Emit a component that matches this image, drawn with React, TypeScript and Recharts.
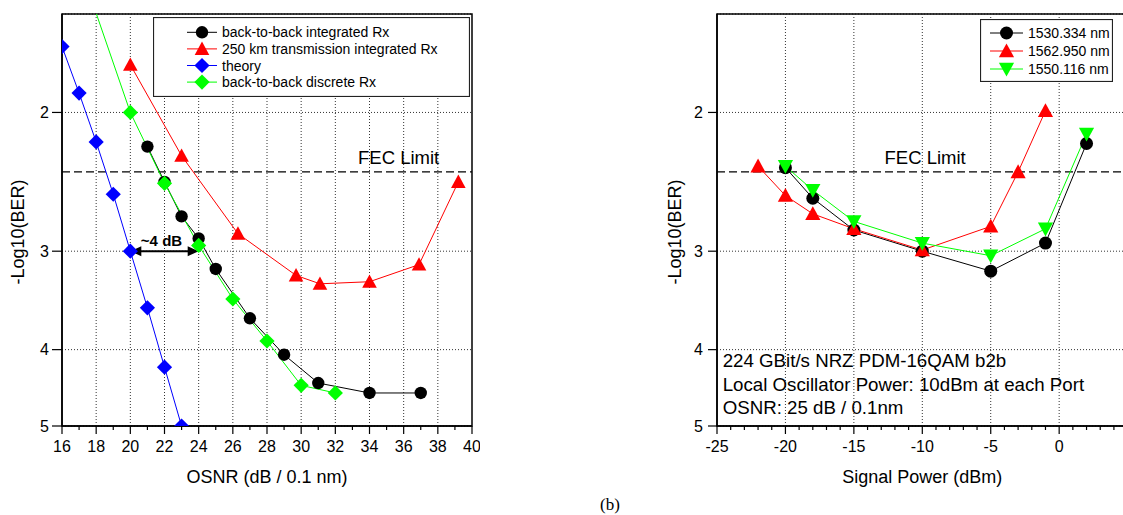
import React from 'react';
import {
  LineChart,
  Line,
  XAxis,
  YAxis,
  CartesianGrid,
  ReferenceLine,
  ReferenceArea,
  Legend,
} from 'recharts';

// ---- left panel: BER vs OSNR ----
const osnrB2bInt = [21, 22, 23, 24, 25, 27, 29, 31, 34, 37];
const berB2bInt = [2.21, 2.45, 2.71, 2.89, 3.16, 3.65, 4.06, 4.41, 4.54, 4.54];

const osnr250km = [20, 23, 26.3, 29.7, 31.1, 34, 36.9, 39.2];
const ber250km = [1.74, 2.27, 2.85, 3.22, 3.3, 3.28, 3.12, 2.45];

const osnrTheory = [16, 17, 18, 19, 20, 21, 22, 23];
const berTheory = [1.65, 1.89, 2.18, 2.54, 3.0, 3.54, 4.21, 5.0];

const osnrB2bDisc = [16, 20, 22, 24, 26, 28, 30, 32];
const berB2bDisc = [1.12, 2.0, 2.46, 2.95, 3.45, 3.9, 4.44, 4.54];

// ---- right panel: BER vs signal power ----
const powerA = [-20, -18, -15, -10, -5, -1, 2];
const berA = [2.35, 2.57, 2.82, 3.0, 3.18, 2.93, 2.19];

const powerB = [-22, -20, -18, -15, -10, -5, -3, -1];
const berB = [2.34, 2.55, 2.69, 2.81, 2.99, 2.79, 2.38, 1.99];

const powerC = [-20, -18, -15, -10, -5, -1, 2];
const berC = [2.34, 2.51, 2.75, 2.93, 3.04, 2.81, 2.13];

const fecLimit = 2.38;
const berTicks = [2, 3, 4, 5];
const osnrTicks = Array.from({ length: 25 }, (_, i) => 16 + i);
const osnrGrid = [18, 20, 22, 24, 26, 28, 30, 32, 34, 36, 38];
const powerTicks = Array.from({ length: 31 }, (_, i) => -25 + i);
const powerGrid = [-20, -15, -10, -5, 0];

const FONT = '"Liberation Sans", Arial, sans-serif';

type Shape = 'circle' | 'up' | 'down' | 'diamond';

const toPts = (xs: number[], ys: number[]) => xs.map((x, i) => ({ x, y: ys[i] }));

const leftSeries = [
  { name: 'back-to-back integrated Rx', color: '#000000', shape: 'circle' as Shape, size: 6.2, data: toPts(osnrB2bInt, berB2bInt) },
  { name: '250 km transmission integrated Rx', color: '#ff0000', shape: 'up' as Shape, size: 7.3, data: toPts(osnr250km, ber250km) },
  { name: 'theory', color: '#0000ff', shape: 'diamond' as Shape, size: 7.6, data: toPts(osnrTheory, berTheory) },
  { name: 'back-to-back discrete Rx', color: '#00ff00', shape: 'diamond' as Shape, size: 7.6, data: toPts(osnrB2bDisc, berB2bDisc) },
];

const rightSeries = [
  { name: '1530.334 nm', color: '#000000', shape: 'circle' as Shape, size: 6.5, data: toPts(powerA, berA) },
  { name: '1562.950 nm', color: '#ff0000', shape: 'up' as Shape, size: 7.6, data: toPts(powerB, berB) },
  { name: '1550.116 nm', color: '#00ff00', shape: 'down' as Shape, size: 7.6, data: toPts(powerC, berC) },
];

function Marker({ cx, cy, shape, color, size }: { cx?: number; cy?: number; shape: Shape; color: string; size: number }) {
  if (cx == null || cy == null) return null;
  const s = size;
  if (shape === 'circle') return <circle cx={cx} cy={cy} r={s} fill={color} />;
  if (shape === 'diamond')
    return <polygon points={`${cx},${cy - s} ${cx + s},${cy} ${cx},${cy + s} ${cx - s},${cy}`} fill={color} />;
  if (shape === 'up')
    return <polygon points={`${cx},${cy - s} ${cx + s},${cy + s * 0.82} ${cx - s},${cy + s * 0.82}`} fill={color} />;
  return <polygon points={`${cx - s},${cy - s * 0.82} ${cx + s},${cy - s * 0.82} ${cx},${cy + s}`} fill={color} />;
}

function makeXTick(isMajor: (v: number) => boolean, showLabel: (v: number) => boolean) {
  return (props: any) => {
    const { x, y, payload } = props;
    const v = payload.value;
    const major = isMajor(v);
    return (
      <g>
        <line x1={x} x2={x} y1={y} y2={y + (major ? 8 : 4)} stroke="#000" strokeWidth={1.2} />
        {major && showLabel(v) && (
          <text x={x} y={y + 26} textAnchor="middle" fontSize={16} fill="#000" fontFamily={FONT}>
            {v}
          </text>
        )}
      </g>
    );
  };
}

const xTitle = (text: string) => (p: any) => {
  const vb = p.viewBox;
  return (
    <text x={vb.x + vb.width / 2} y={vb.y + 57} textAnchor="middle" fontSize={18} fill="#000" fontFamily={FONT}>
      {text}
    </text>
  );
};

const yTitle = (cxOffset: number) => (p: any) => {
  const vb = p.viewBox;
  const cx = vb.x + cxOffset;
  const cy = 232;
  return (
    <text
      x={cx}
      y={cy}
      transform={`rotate(-90, ${cx}, ${cy})`}
      textAnchor="middle"
      dominantBaseline="central"
      fontSize={18}
      fill="#000"
      fontFamily={FONT}
    >
      -Log10(BER)
    </text>
  );
};

const fecLabel = (frac: number) => (p: any) => {
  const vb = p.viewBox;
  return (
    <text x={vb.x + vb.width * frac} y={vb.y - 8} textAnchor="middle" fontSize={18.5} fill="#000" fontFamily={FONT}>
      FEC Limit
    </text>
  );
};

function ArrowShape(p: any) {
  const { x1, y1, x2, y2 } = p;
  const h = 11;
  const w = 5;
  return (
    <g>
      <line x1={x1 + h - 1} y1={y1} x2={x2 - h + 1} y2={y2} stroke="#000" strokeWidth={2} />
      <polygon points={`${x1},${y1} ${x1 + h},${y1 - w} ${x1 + h},${y1 + w}`} fill="#000" />
      <polygon points={`${x2},${y2} ${x2 - h},${y2 - w} ${x2 - h},${y2 + w}`} fill="#000" />
    </g>
  );
}

const dbLabel = (p: any) => {
  const vb = p.viewBox;
  return (
    <text x={vb.x + vb.width / 2 - 3} y={vb.y - 5} textAnchor="middle" fontSize={15} fontWeight="bold" fill="#000" fontFamily={FONT}>
      ~4 dB
    </text>
  );
};

function LegendBox({
  items,
  width,
  height,
  row0,
  rowH,
  lx1,
  lx2,
  tx,
  fontSize,
}: {
  items: { name: string; color: string; shape: Shape; size: number }[];
  width: number;
  height: number;
  row0: number;
  rowH: number;
  lx1: number;
  lx2: number;
  tx: number;
  fontSize: number;
}) {
  return (
    <svg width={width} height={height} style={{ display: 'block' }}>
      <rect x={0.5} y={0.5} width={width - 1} height={height - 1} fill="#fff" stroke="#222" strokeWidth={1.2} />
      {items.map((it, i) => {
        const cy = row0 + i * rowH;
        return (
          <g key={it.name}>
            <line x1={lx1} x2={lx2} y1={cy} y2={cy} stroke={it.color} strokeWidth={1} />
            <Marker cx={(lx1 + lx2) / 2} cy={cy} shape={it.shape} color={it.color} size={it.size} />
            <text x={tx} y={cy} dy="0.36em" fontSize={fontSize} fill="#000" fontFamily={FONT}>
              {it.name}
            </text>
          </g>
        );
      })}
    </svg>
  );
}

const axisLine = { stroke: '#000', strokeWidth: 1.5 };

export default function App() {
  return (
    <div
      style={{
        position: 'fixed',
        left: 0,
        top: 0,
        width: 1123,
        height: 515,
        overflow: 'hidden',
        background: '#fff',
        fontFamily: FONT,
      }}
    >
      <div style={{ position: 'absolute', left: 0, top: 0 }}>
        <LineChart width={480} height={515} margin={{ top: 14, right: 8, bottom: 0, left: 0 }}>
          <CartesianGrid vertical={false} stroke="#333" strokeDasharray="1 2" />
          {osnrGrid.map((v) => (
            <ReferenceLine key={v} x={v} stroke="#333" strokeDasharray="1 2" />
          ))}
          <XAxis
            dataKey="x"
            type="number"
            domain={[16, 40]}
            allowDataOverflow
            ticks={osnrTicks}
            interval={0}
            tickLine={false}
            tickSize={0}
            tickMargin={0}
            tick={makeXTick((v) => v % 2 === 0, () => true)}
            axisLine={axisLine}
            height={89}
            label={xTitle('OSNR (dB / 0.1 nm)')}
          />
          <YAxis
            type="number"
            scale="log"
            domain={[1.5, 5]}
            allowDataOverflow
            reversed
            ticks={berTicks}
            interval={0}
            width={62}
            tickSize={10}
            tickMargin={3}
            tickLine={{ stroke: '#000', strokeWidth: 1.2 }}
            axisLine={axisLine}
            tick={{ fontSize: 16, fill: '#000', fontFamily: FONT }}
            label={yTitle(18)}
          />
          <ReferenceLine y={fecLimit} stroke="#000" strokeWidth={1.2} strokeDasharray="8 4" label={fecLabel(0.821)} />
          <ReferenceLine
            segment={[
              { x: 20, y: 3 },
              { x: 24, y: 3 },
            ]}
            shape={ArrowShape}
            label={dbLabel}
          />
          {leftSeries.map((s) => (
            <Line
              key={s.name}
              data={s.data}
              dataKey="y"
              name={s.name}
              type="linear"
              stroke={s.color}
              strokeWidth={1}
              isAnimationActive={false}
              activeDot={false}
              dot={(p: any) => <Marker key={`${s.name}-${p.index}`} cx={p.cx} cy={p.cy} shape={s.shape} color={s.color} size={s.size} />}
            />
          ))}
          <ReferenceArea x1={16} x2={40} y1={1.5} y2={5} fill="none" stroke="#000" strokeWidth={1.5} />
          <Legend
            layout="vertical"
            align="center"
            verticalAlign="middle"
            wrapperStyle={{ left: 153, top: 17, width: 317, height: 80 }}
            content={() => (
              <LegendBox items={leftSeries} width={317} height={80} row0={15.3} rowH={16.6} lx1={34} lx2={64} tx={69} fontSize={14} />
            )}
          />
        </LineChart>
      </div>

      <div style={{ position: 'absolute', left: 640, top: 0 }}>
        <LineChart width={500} height={515} margin={{ top: 14, right: 12.4, bottom: 0, left: 0 }}>
          <CartesianGrid vertical={false} stroke="#333" strokeDasharray="1 2" />
          {powerGrid.map((v) => (
            <ReferenceLine key={v} x={v} stroke="#333" strokeDasharray="1 2" />
          ))}
          <XAxis
            dataKey="x"
            type="number"
            domain={[-25, 5]}
            allowDataOverflow
            ticks={powerTicks}
            interval={0}
            tickLine={false}
            tickSize={0}
            tickMargin={0}
            tick={makeXTick((v) => v % 5 === 0, (v) => v <= 0)}
            axisLine={axisLine}
            height={89}
            label={xTitle('Signal Power (dBm)')}
          />
          <YAxis
            type="number"
            scale="log"
            domain={[1.5, 5]}
            allowDataOverflow
            reversed
            ticks={berTicks}
            interval={0}
            width={77}
            tickSize={9}
            tickMargin={5}
            tickLine={{ stroke: '#000', strokeWidth: 1.2 }}
            axisLine={axisLine}
            tick={{ fontSize: 16, fill: '#000', fontFamily: FONT }}
            label={yTitle(35)}
          />
          <ReferenceLine y={fecLimit} stroke="#000" strokeWidth={1.2} strokeDasharray="8 4" label={fecLabel(0.507)} />
          {rightSeries.map((s) => (
            <Line
              key={s.name}
              data={s.data}
              dataKey="y"
              name={s.name}
              type="linear"
              stroke={s.color}
              strokeWidth={1}
              isAnimationActive={false}
              activeDot={false}
              dot={(p: any) => <Marker key={`${s.name}-${p.index}`} cx={p.cx} cy={p.cy} shape={s.shape} color={s.color} size={s.size} />}
            />
          ))}
          <ReferenceArea x1={-25} x2={5} y1={1.5} y2={5} fill="none" stroke="#000" strokeWidth={1.5} />
          <Legend
            layout="vertical"
            align="center"
            verticalAlign="middle"
            wrapperStyle={{ left: 340, top: 19, width: 133, height: 63 }}
            content={() => (
              <LegendBox items={rightSeries} width={133} height={63} row0={14} rowH={18} lx1={10} lx2={43} tx={48} fontSize={14} />
            )}
          />
        </LineChart>
      </div>

      <svg width={1123} height={515} style={{ position: 'absolute', left: 0, top: 0, pointerEvents: 'none' }}>
        <g fontFamily={FONT} fontSize={18.7} fill="#000">
          <text x={722.7} y={367}>224 GBit/s NRZ PDM-16QAM b2b</text>
          <text x={722.7} y={391}>Local Oscillator Power: 10dBm at each Port</text>
          <text x={722.7} y={414}>OSNR: 25 dB / 0.1nm</text>
        </g>
        <text x={610} y={510} textAnchor="middle" fontFamily='"Liberation Serif", "Times New Roman", serif' fontSize={17} fill="#000">
          (b)
        </text>
      </svg>
    </div>
  );
}
